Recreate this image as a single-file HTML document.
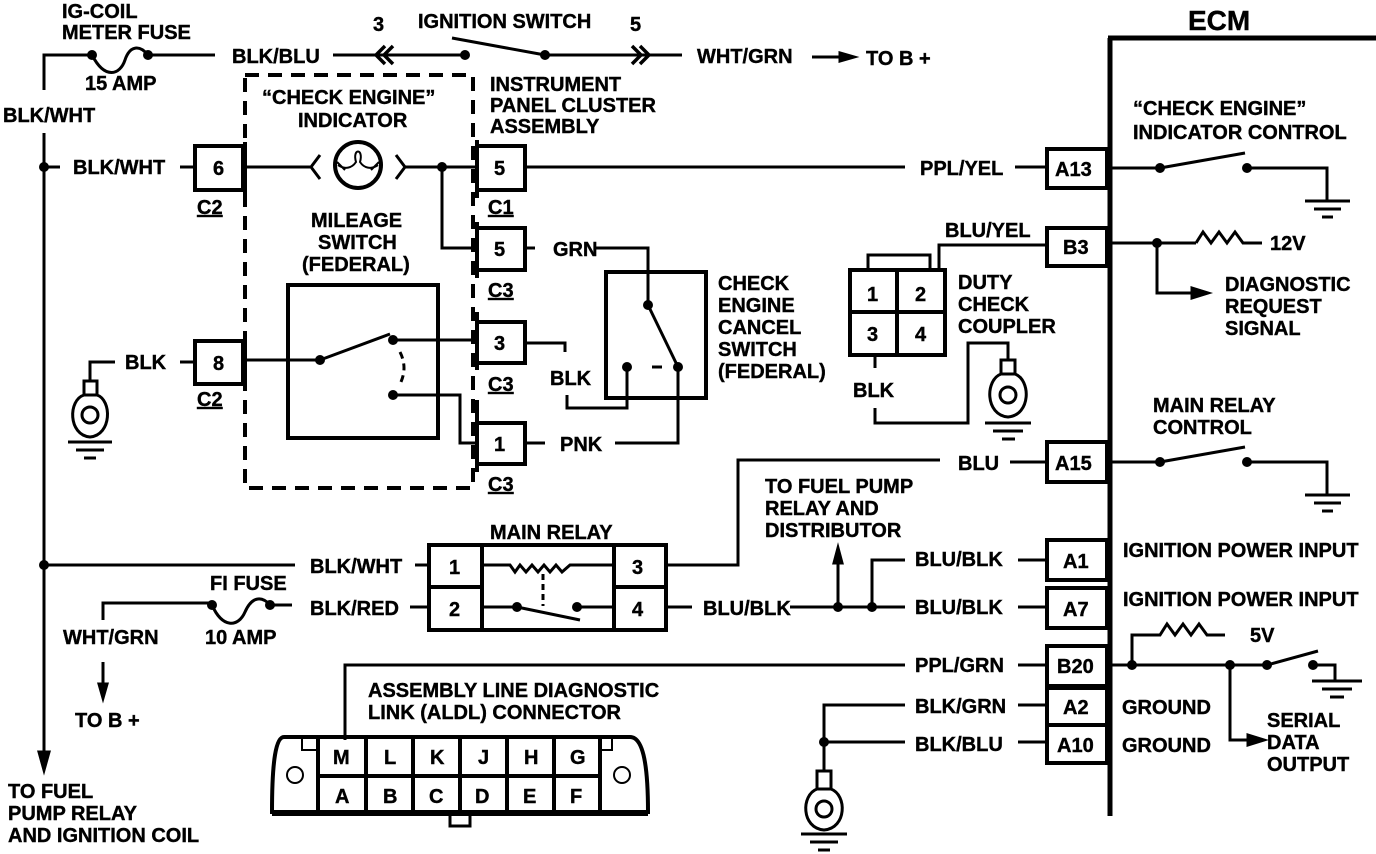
<!DOCTYPE html>
<html><head><meta charset="utf-8"><style>
html,body{margin:0;padding:0;background:#fff;}
svg{display:block;}
text{font-family:"Liberation Sans",sans-serif;font-weight:bold;font-size:20px;fill:#000;stroke:#000;stroke-width:0.4px;}
</style></head><body>
<svg width="1376" height="854" viewBox="0 0 1376 854" xmlns="http://www.w3.org/2000/svg">
<g stroke="#000" stroke-width="3" fill="none" stroke-linecap="butt">
<polyline points="44,90 44,55 92,55"/>
<line x1="44" y1="133" x2="44" y2="760"/>
<path d="M39,752 L44,770 L49,752 Z" fill="#000"/>
<path d="M92,55 C105,80 120,75 125,60 C130,45 140,45 148,55"/>
<line x1="148" y1="55" x2="215" y2="55"/>
<line x1="333" y1="55" x2="465" y2="55"/>
<path d="M385,46 L376,55 L385,64 M393,46 L384,55 L393,64" stroke-width="3.5"/>
<line x1="452" y1="38" x2="545" y2="55"/>
<line x1="545" y1="55" x2="682" y2="55"/>
<path d="M632,46 L641,55 L632,64 M640,46 L649,55 L640,64" stroke-width="3.5"/>
<line x1="812" y1="57" x2="845" y2="57"/>
<path d="M840,53 L854,57 L840,61 Z" fill="#000"/>
<line x1="1110" y1="38" x2="1110" y2="816" stroke-width="5"/>
<line x1="1108" y1="38" x2="1376" y2="38" stroke-width="5"/>
<rect x="245" y="75" width="228" height="413" stroke-width="4" stroke-dasharray="14,9"/>
<line x1="44" y1="167" x2="60" y2="167"/>
<line x1="180" y1="167" x2="195" y2="167"/>
<rect x="195" y="146" width="48" height="44" stroke-width="4"/>
<line x1="245" y1="142" x2="245" y2="195" stroke-width="4"/>
<line x1="245" y1="167" x2="310" y2="167"/>
<circle cx="358" cy="165" r="23" stroke-width="4"/>
<path d="M320,155 L311,167 L320,179 M396,155 L405,167 L396,179"/>
<path d="M338,165 C345,170 352,168 356,162 C352,148 364,148 360,162 C364,168 371,170 378,165 M337,162 L345,170 M379,162 L371,170" stroke-width="2"/>
<line x1="405" y1="167" x2="475" y2="167"/>
<rect x="477" y="146" width="48" height="44" stroke-width="4"/>
<line x1="477" y1="140" x2="477" y2="198" stroke-width="4"/>
<line x1="525" y1="167" x2="905" y2="167"/>
<line x1="1015" y1="167" x2="1045" y2="167"/>
<rect x="1047" y="149" width="60" height="39" stroke-width="4"/>
<polyline points="442,167 442,248 477,248"/>
<rect x="477" y="228" width="48" height="42" stroke-width="4"/>
<line x1="477" y1="222" x2="477" y2="278" stroke-width="4"/>
<line x1="525" y1="248" x2="535" y2="248"/>
<polyline points="595,248 648,248 648,305"/>
<rect x="606" y="272" width="100" height="126" stroke-width="4"/>
<line x1="648" y1="305" x2="678" y2="367"/>
<line x1="652" y1="367" x2="662" y2="367"/>
<polyline points="627,367 627,408 567,408 567,395"/>
<polyline points="678,367 678,443 615,443"/>
<rect x="288" y="285" width="150" height="153" stroke-width="4"/>
<line x1="245" y1="360" x2="320" y2="360"/>
<line x1="320" y1="360" x2="390" y2="334"/>
<line x1="393" y1="340" x2="477" y2="340"/>
<path d="M400,352 Q408,368 400,384" stroke-dasharray="7,5"/>
<polyline points="393,395 460,395 460,443 477,443"/>
<rect x="477" y="322" width="48" height="41" stroke-width="4"/>
<line x1="477" y1="312" x2="477" y2="370" stroke-width="4"/>
<polyline points="525,343 565,343 565,352"/>
<rect x="477" y="423" width="48" height="41" stroke-width="4"/>
<line x1="477" y1="400" x2="477" y2="472" stroke-width="4"/>
<line x1="525" y1="443" x2="545" y2="443"/>
<rect x="195" y="341" width="48" height="43" stroke-width="4"/>
<line x1="245" y1="337" x2="245" y2="390" stroke-width="4"/>
<line x1="180" y1="362" x2="195" y2="362"/>
<polyline points="115,362 90,362 90,381"/>
<rect x="84" y="381" width="13" height="14"/>
<path d="M84,395 C68,400 68,435 90,437 C112,435 112,400 97,395"/>
<circle cx="90" cy="415" r="8"/>
<line x1="68" y1="442" x2="112" y2="442"/>
<line x1="76" y1="450" x2="104" y2="450"/>
<line x1="84" y1="458" x2="96" y2="458"/>
<rect x="850" y="270" width="95" height="85" stroke-width="4"/>
<line x1="897" y1="270" x2="897" y2="355" stroke-width="4"/>
<line x1="850" y1="312" x2="945" y2="312" stroke-width="4"/>
<polyline points="868,270 868,255 930,255 930,270" stroke-width="3"/>
<polyline points="939,270 939,245 1047,245"/>
<rect x="1047" y="228" width="60" height="38" stroke-width="4"/>
<line x1="875" y1="355" x2="875" y2="368"/>
<polyline points="875,408 875,423 968,423 968,343 1008,343 1008,360"/>
<rect x="1001" y="360" width="14" height="14"/>
<path d="M1001,374 C985,380 985,415 1008,417 C1031,415 1031,380 1015,374"/>
<circle cx="1008" cy="395" r="8"/>
<line x1="985" y1="423" x2="1031" y2="423"/>
<line x1="993" y1="431" x2="1023" y2="431"/>
<line x1="1002" y1="439" x2="1015" y2="439"/>
<line x1="1110" y1="168" x2="1160" y2="168"/>
<line x1="1160" y1="168" x2="1245" y2="153"/>
<polyline points="1247,168 1327,168 1327,200"/>
<line x1="1305" y1="201" x2="1350" y2="201"/>
<line x1="1314" y1="209" x2="1341" y2="209"/>
<line x1="1322" y1="217" x2="1333" y2="217"/>
<line x1="1110" y1="243" x2="1196" y2="243"/>
<polyline points="1196,243 1203,232 1211,243 1219,232 1227,243 1235,232 1243,243 1262,243"/>
<polyline points="1157,243 1157,293 1195,293"/>
<path d="M1192,288 L1208,293 L1192,298 Z" fill="#000"/>
<line x1="1110" y1="462" x2="1160" y2="462"/>
<line x1="1160" y1="462" x2="1245" y2="447"/>
<polyline points="1247,462 1327,462 1327,494"/>
<line x1="1305" y1="495" x2="1350" y2="495"/>
<line x1="1314" y1="503" x2="1341" y2="503"/>
<line x1="1322" y1="511" x2="1333" y2="511"/>
<rect x="1047" y="442" width="60" height="40" stroke-width="4"/>
<line x1="1010" y1="462" x2="1047" y2="462"/>
<polyline points="940,460 738,460 738,565 667,565"/>
<rect x="1047" y="540" width="60" height="40" stroke-width="4"/>
<rect x="1047" y="588" width="60" height="40" stroke-width="4"/>
<line x1="1018" y1="560" x2="1047" y2="560"/>
<line x1="1018" y1="607" x2="1047" y2="607"/>
<polyline points="905,560 872,560 872,607"/>
<line x1="790" y1="607" x2="905" y2="607"/>
<line x1="667" y1="607" x2="692" y2="607"/>
<line x1="838" y1="607" x2="838" y2="560"/>
<path d="M834,563 L838,548 L842,563 Z" fill="#000"/>
<rect x="1047" y="646" width="60" height="40" stroke-width="4"/>
<rect x="1047" y="688" width="60" height="37" stroke-width="4"/>
<rect x="1047" y="725" width="60" height="38" stroke-width="4"/>
<polyline points="345,740 345,665 905,665"/>
<line x1="1018" y1="665" x2="1047" y2="665"/>
<line x1="1110" y1="665" x2="1267" y2="665"/>
<line x1="1267" y1="665" x2="1318" y2="651"/>
<polyline points="1313,665 1335,665 1335,680"/>
<line x1="1312" y1="681" x2="1362" y2="681"/>
<line x1="1322" y1="689" x2="1352" y2="689"/>
<line x1="1330" y1="697" x2="1344" y2="697"/>
<polyline points="1132,665 1132,635 1160,635 1167,624 1175,635 1183,624 1191,635 1199,624 1207,635 1225,635"/>
<polyline points="1230,665 1230,740 1250,740"/>
<path d="M1248,735 L1264,740 L1248,745 Z" fill="#000"/>
<polyline points="905,705 824,705 824,771"/>
<line x1="824" y1="742" x2="905" y2="742"/>
<line x1="1018" y1="705" x2="1047" y2="705"/>
<line x1="1018" y1="742" x2="1047" y2="742"/>
<rect x="817" y="771" width="14" height="18"/>
<path d="M817,789 C801,795 801,828 824,830 C847,828 847,795 831,789"/>
<circle cx="824" cy="809" r="8"/>
<line x1="801" y1="834" x2="847" y2="834"/>
<line x1="810" y1="842" x2="838" y2="842"/>
<line x1="818" y1="850" x2="830" y2="850"/>
<rect x="429" y="545" width="237" height="85" stroke-width="4"/>
<line x1="482" y1="545" x2="482" y2="630" stroke-width="4"/>
<line x1="614" y1="545" x2="614" y2="630" stroke-width="4"/>
<line x1="429" y1="587" x2="482" y2="587" stroke-width="4"/>
<line x1="614" y1="587" x2="666" y2="587" stroke-width="4"/>
<line x1="44" y1="565" x2="295" y2="565"/>
<line x1="415" y1="565" x2="429" y2="565"/>
<polyline points="482,565 510,565 515,572 520,565 526,572 532,565 538,572 544,565 550,572 556,565 562,572 570,565 614,565"/>
<line x1="543" y1="574" x2="543" y2="606" stroke-dasharray="6,4"/>
<line x1="482" y1="607" x2="517" y2="607"/>
<line x1="517" y1="607" x2="580" y2="620"/>
<line x1="577" y1="607" x2="614" y2="607"/>
<line x1="410" y1="607" x2="429" y2="607"/>
<polyline points="103,620 103,603 212,603"/>
<path d="M212,605 C222,628 238,628 245,612 C252,596 262,596 270,605"/>
<line x1="270" y1="605" x2="292" y2="605"/>
<line x1="103" y1="662" x2="103" y2="690"/>
<path d="M99,684 L103,698 L107,684 Z" fill="#000"/>
<path d="M284,737 L630,737 C642,737 648,760 648,812 L272,812 C272,760 276,737 284,737 Z" stroke-width="4"/>
<line x1="272" y1="814" x2="648" y2="814" stroke-width="4"/>
<rect x="450" y="812" width="20" height="14" stroke-width="3"/>
<polyline points="302,737 302,750 316,750" stroke-width="2"/>
<polyline points="612,737 612,750 600,750" stroke-width="2"/>
<circle cx="295" cy="775" r="8" stroke-width="2"/>
<circle cx="622" cy="775" r="8" stroke-width="2"/>
<g stroke-width="4">
<line x1="318" y1="737" x2="318" y2="812"/>
<line x1="366" y1="737" x2="366" y2="812"/>
<line x1="413" y1="737" x2="413" y2="812"/>
<line x1="460" y1="737" x2="460" y2="812"/>
<line x1="507" y1="737" x2="507" y2="812"/>
<line x1="554" y1="737" x2="554" y2="812"/>
<line x1="600" y1="737" x2="600" y2="812"/>
<line x1="318" y1="776" x2="600" y2="776"/>
</g>
</g>
<g fill="#000">
<circle cx="92" cy="55" r="5"/><circle cx="148" cy="55" r="5"/>
<circle cx="465" cy="55" r="5"/><circle cx="545" cy="55" r="5"/>
<circle cx="44" cy="167" r="5"/><circle cx="442" cy="167" r="5"/>
<circle cx="648" cy="305" r="5"/><circle cx="627" cy="367" r="5"/><circle cx="678" cy="367" r="5"/>
<circle cx="320" cy="360" r="5"/><circle cx="393" cy="340" r="5"/><circle cx="393" cy="395" r="5"/>
<circle cx="1160" cy="168" r="5"/><circle cx="1247" cy="168" r="5"/>
<circle cx="1157" cy="243" r="5"/>
<circle cx="1160" cy="462" r="5"/><circle cx="1247" cy="462" r="5"/>
<circle cx="44" cy="565" r="5"/>
<circle cx="517" cy="607" r="5"/><circle cx="577" cy="607" r="5"/>
<circle cx="212" cy="605" r="5"/><circle cx="270" cy="605" r="5"/>
<circle cx="838" cy="607" r="5"/><circle cx="872" cy="607" r="5"/>
<circle cx="1132" cy="665" r="5"/><circle cx="1230" cy="665" r="5"/><circle cx="1267" cy="665" r="5"/><circle cx="1313" cy="665" r="5"/>
<circle cx="824" cy="742" r="5"/>
</g>
<text x="62" y="18">IG-COIL</text>
<text x="62" y="39">METER FUSE</text>
<text x="85" y="90">15 AMP</text>
<text x="232" y="63">BLK/BLU</text>
<text x="373" y="31">3</text>
<text x="418" y="28">IGNITION SWITCH</text>
<text x="630" y="31">5</text>
<text x="697" y="63">WHT/GRN</text>
<text x="866" y="65">TO B +</text>
<text x="1188" y="30" style="font-size:28px">ECM</text>
<text x="3" y="122">BLK/WHT</text>
<text x="73" y="174">BLK/WHT</text>
<text x="262" y="104">“CHECK ENGINE”</text>
<text x="298" y="127">INDICATOR</text>
<text x="490" y="91">INSTRUMENT</text>
<text x="490" y="112">PANEL CLUSTER</text>
<text x="490" y="133">ASSEMBLY</text>
<text x="213" y="175">6</text>
<text x="494" y="175">5</text>
<text x="197" y="214" text-decoration="underline">C2</text>
<text x="488" y="214" text-decoration="underline">C1</text>
<text x="311" y="227">MILEAGE</text>
<text x="318" y="249">SWITCH</text>
<text x="302" y="271">(FEDERAL)</text>
<text x="494" y="256">5</text>
<text x="488" y="297" text-decoration="underline">C3</text>
<text x="553" y="256">GRN</text>
<text x="494" y="350">3</text>
<text x="488" y="391" text-decoration="underline">C3</text>
<text x="550" y="385">BLK</text>
<text x="494" y="451">1</text>
<text x="488" y="491" text-decoration="underline">C3</text>
<text x="560" y="451">PNK</text>
<text x="213" y="370">8</text>
<text x="197" y="406" text-decoration="underline">C2</text>
<text x="125" y="369">BLK</text>
<text x="718" y="290">CHECK</text>
<text x="718" y="312">ENGINE</text>
<text x="718" y="334">CANCEL</text>
<text x="718" y="356">SWITCH</text>
<text x="718" y="378">(FEDERAL)</text>
<text x="920" y="175">PPL/YEL</text>
<text x="1055" y="176">A13</text>
<text x="945" y="237">BLU/YEL</text>
<text x="1063" y="254">B3</text>
<text x="867" y="301">1</text><text x="915" y="301">2</text>
<text x="867" y="341">3</text><text x="915" y="341">4</text>
<text x="958" y="289">DUTY</text>
<text x="958" y="311">CHECK</text>
<text x="958" y="333">COUPLER</text>
<text x="853" y="397">BLK</text>
<text x="1133" y="115">“CHECK ENGINE”</text>
<text x="1133" y="139">INDICATOR CONTROL</text>
<text x="1270" y="250">12V</text>
<text x="1225" y="291">DIAGNOSTIC</text>
<text x="1225" y="313">REQUEST</text>
<text x="1225" y="335">SIGNAL</text>
<text x="1153" y="412">MAIN RELAY</text>
<text x="1153" y="434">CONTROL</text>
<text x="958" y="470">BLU</text>
<text x="1055" y="470">A15</text>
<text x="765" y="493">TO FUEL PUMP</text>
<text x="765" y="515">RELAY AND</text>
<text x="765" y="537">DISTRIBUTOR</text>
<text x="490" y="539">MAIN RELAY</text>
<text x="310" y="573">BLK/WHT</text>
<text x="449" y="574">1</text><text x="632" y="574">3</text>
<text x="449" y="616">2</text><text x="632" y="616">4</text>
<text x="210" y="590">FI FUSE</text>
<text x="310" y="615">BLK/RED</text>
<text x="63" y="644">WHT/GRN</text>
<text x="205" y="644">10 AMP</text>
<text x="75" y="727">TO B +</text>
<text x="703" y="615">BLU/BLK</text>
<text x="915" y="566">BLU/BLK</text>
<text x="915" y="614">BLU/BLK</text>
<text x="1063" y="568">A1</text>
<text x="1063" y="616">A7</text>
<text x="1123" y="557">IGNITION POWER INPUT</text>
<text x="1123" y="606">IGNITION POWER INPUT</text>
<text x="1250" y="642">5V</text>
<text x="915" y="672">PPL/GRN</text>
<text x="1057" y="673">B20</text>
<text x="915" y="713">BLK/GRN</text>
<text x="1063" y="714">A2</text>
<text x="1122" y="714">GROUND</text>
<text x="915" y="751">BLK/BLU</text>
<text x="1057" y="752">A10</text>
<text x="1122" y="752">GROUND</text>
<text x="1267" y="727">SERIAL</text>
<text x="1267" y="749">DATA</text>
<text x="1267" y="771">OUTPUT</text>
<text x="368" y="697">ASSEMBLY LINE DIAGNOSTIC</text>
<text x="368" y="719">LINK (ALDL) CONNECTOR</text>
<text x="333" y="764">M</text><text x="384" y="764">L</text><text x="430" y="764">K</text><text x="478" y="764">J</text><text x="524" y="764">H</text><text x="570" y="764">G</text>
<text x="335" y="803">A</text><text x="383" y="803">B</text><text x="429" y="803">C</text><text x="475" y="803">D</text><text x="523" y="803">E</text><text x="570" y="803">F</text>
<text x="8" y="798">TO FUEL</text>
<text x="8" y="820">PUMP RELAY</text>
<text x="8" y="842">AND IGNITION COIL</text>
</svg>
</body></html>
